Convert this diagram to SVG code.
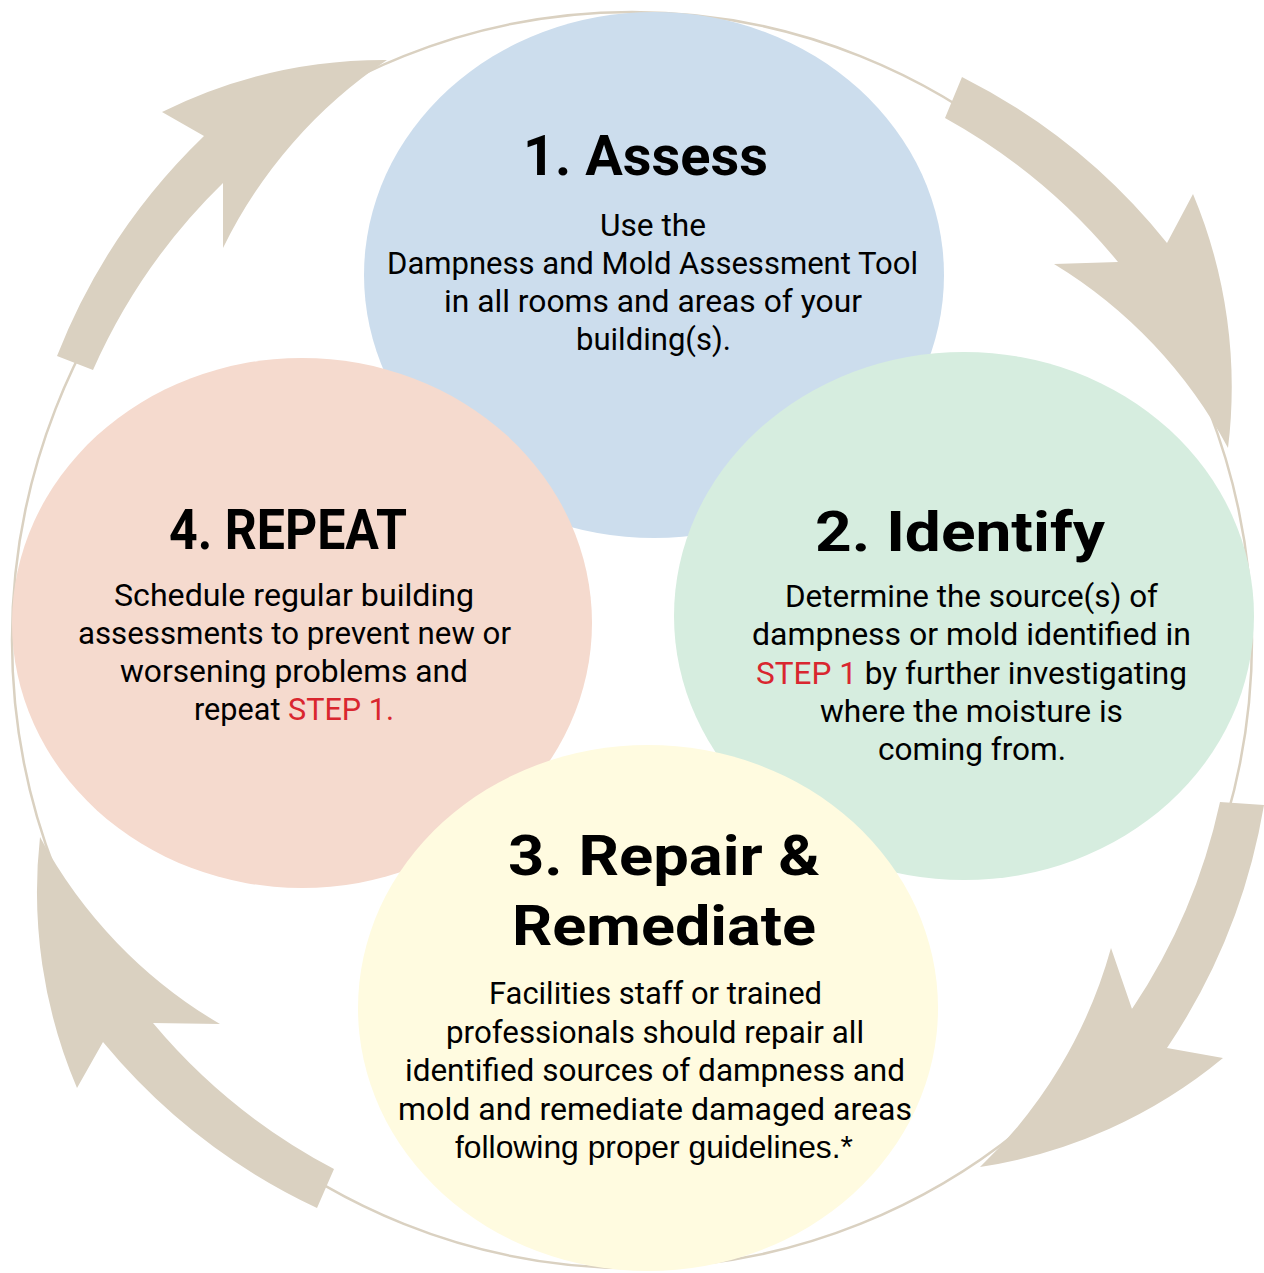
<svg xmlns="http://www.w3.org/2000/svg" width="1264" height="1273" viewBox="0 0 1264 1273">
<style>
.ring{fill:none;stroke:#DAD1C1;stroke-width:2.5}
.arrow{fill:#DAD1C1}
.title{font-family:Roboto,"Liberation Sans",sans-serif;font-weight:700;font-size:56px;fill:#000}
.body{font-family:Roboto,"Liberation Sans",sans-serif;font-size:32px;fill:#000}
.arial{font-family:"Liberation Sans",Arial,sans-serif;font-size:32px;fill:#000}
.red{fill:#D9262F}
</style>
<rect width="1264" height="1273" fill="#FFFFFF"/>
<g id="connectors">
  <ellipse class="ring" cx="632" cy="640" rx="620" ry="628"/>
  <path class="arrow" d="M57,356 A620,620 0 0 1 204,136 L162,112 A500,500 0 0 1 387,60 A480,480 0 0 0 223,248 L223,183 A600,600 0 0 0 93,370 Z"/>
  <path class="arrow" d="M962,77 A620,620 0 0 1 1167,243 L1193,194 A500,500 0 0 1 1228,448 A480,480 0 0 0 1054,264 L1118,262 A600,600 0 0 0 945,118 Z"/>
  <path class="arrow" d="M1264,805 A620,620 0 0 1 1167,1048 L1223,1058 A500,500 0 0 1 980,1167 A480,480 0 0 0 1111,948 L1132,1009 A600,600 0 0 0 1220,802 Z"/>
  <path class="arrow" d="M317,1208 A620,620 0 0 1 103,1042 L77,1088 A500,500 0 0 1 40,837 A480,480 0 0 0 220,1024 L153,1023 A600,600 0 0 0 334,1169 Z"/>
</g>
<g id="assess">
  <ellipse cx="654" cy="275" rx="290" ry="263" fill="#CCDDED"/>
  <text class="title" x="523" y="175" textLength="245" lengthAdjust="spacingAndGlyphs">1. Assess</text>
  <text class="body" x="600" y="236" textLength="106" lengthAdjust="spacingAndGlyphs">Use the</text>
  <text class="body" x="387" y="274" textLength="531" lengthAdjust="spacingAndGlyphs">Dampness and Mold Assessment Tool</text>
  <text class="body" x="444" y="312" textLength="418" lengthAdjust="spacingAndGlyphs">in all rooms and areas of your</text>
  <text class="body" x="576" y="350" textLength="155" lengthAdjust="spacingAndGlyphs">building(s).</text>
</g>
<g id="identify">
  <ellipse cx="964" cy="616" rx="290" ry="264" fill="#D6EDDF"/>
  <text class="title" x="815" y="551" textLength="290" lengthAdjust="spacingAndGlyphs">2. Identify</text>
  <text class="body" x="785" y="607" textLength="373" lengthAdjust="spacingAndGlyphs">Determine the source(s) of</text>
  <text class="body" x="752" y="645" textLength="439" lengthAdjust="spacingAndGlyphs">dampness or mold identified in</text>
  <text class="body" x="756" y="684" textLength="431" lengthAdjust="spacingAndGlyphs"><tspan class="red">STEP 1</tspan> by further investigating</text>
  <text class="body" x="820" y="722" textLength="303" lengthAdjust="spacingAndGlyphs">where the moisture is</text>
  <text class="body" x="878" y="760" textLength="188" lengthAdjust="spacingAndGlyphs">coming from.</text>
</g>
<g id="repeat">
  <ellipse cx="302" cy="623" rx="290" ry="265" fill="#F5DACE"/>
  <text class="title" x="169" y="549" textLength="238" lengthAdjust="spacingAndGlyphs">4. REPEAT</text>
  <text class="body" x="114" y="606" textLength="360" lengthAdjust="spacingAndGlyphs">Schedule regular building</text>
  <text class="body" x="78" y="644" textLength="433" lengthAdjust="spacingAndGlyphs">assessments to prevent new or</text>
  <text class="body" x="120" y="682" textLength="348" lengthAdjust="spacingAndGlyphs">worsening problems and</text>
  <text class="body" x="194" y="720" textLength="200" lengthAdjust="spacingAndGlyphs">repeat <tspan class="red">STEP 1.</tspan></text>
</g>
<g id="repair">
  <ellipse cx="648" cy="1008" rx="290" ry="263" fill="#FFFBE0"/>
  <text class="title" x="508" y="875" textLength="312" lengthAdjust="spacingAndGlyphs">3. Repair &amp;</text>
  <text class="title" x="512" y="945" textLength="304" lengthAdjust="spacingAndGlyphs">Remediate</text>
  <text class="body" x="489" y="1004" textLength="333" lengthAdjust="spacingAndGlyphs">Facilities staff or trained</text>
  <text class="body" x="446" y="1043" textLength="418" lengthAdjust="spacingAndGlyphs">professionals should repair all</text>
  <text class="body" x="405" y="1081" textLength="500" lengthAdjust="spacingAndGlyphs">identified sources of dampness and</text>
  <text class="body" x="398" y="1120" textLength="514" lengthAdjust="spacingAndGlyphs">mold and remediate damaged areas</text>
  <text class="arial" x="455" y="1158" textLength="398" lengthAdjust="spacingAndGlyphs">following proper guidelines.*</text>
</g>
</svg>
